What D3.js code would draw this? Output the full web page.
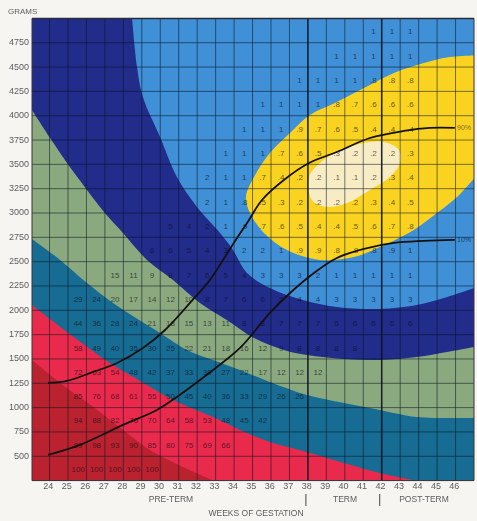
<!DOCTYPE html>
<html><head><meta charset="utf-8">
<script src="https://cdn.jsdelivr.net/npm/d3@7/dist/d3.min.js"></script>
<style>html,body{margin:0;padding:0;background:#f6f5f2}svg{display:block;filter:blur(0.45px)}</style>
</head><body><div id="chart"></div>
<script>
const weekTicks = d3.range(24, 47);
const gramTicks = d3.range(500, 5000, 250);
const gridWeeks = d3.range(24, 47);
const termWeeks = [38, 42];

// Weight bands: each row is [upper gram bound], first filled week column, values
const rowTops = [5000,4750,4500,4250,4000,3750,3500,3250,3000,2750,2500,2250,2000,1750,1500,1250,1000,750];
const rowStarts = [41,39,37,35,34,33,32,32,30,29,27,25,25,25,25,25,25,25];
const rowValues = [
 [1,1,1],
 [1,1,1,1,1],
 [1,1,1,1,.8,.8,.8],
 [1,1,1,1,.8,.7,.6,.6,.6],
 [1,1,1,.9,.7,.6,.5,.4,.4,.4],
 [1,1,1,.7,.6,.5,.3,.2,.2,.2,.3],
 [2,1,1,.7,.4,.2,.2,.1,.1,.2,.3,.4],
 [2,1,.8,.5,.3,.2,.2,.2,.2,.3,.4,.5],
 [5,4,2,1,.9,.7,.6,.5,.4,.4,.5,.6,.7,.8],
 [6,6,5,4,3,2,2,1,.9,.9,.8,.8,.8,.9,1],
 [15,11,9,8,7,6,5,4,3,3,3,2,1,1,1,1,1],
 [29,24,20,17,14,12,10,8,7,6,6,5,4,4,3,3,3,3,3],
 [44,36,28,24,21,18,15,13,11,8,8,7,7,7,6,6,6,6,6],
 [58,49,40,35,30,25,22,21,18,16,12,9,8,8,8,8],
 [72,63,54,48,42,37,33,30,27,22,17,12,12,12],
 [85,76,68,61,55,50,45,40,36,33,29,26,26],
 [94,88,82,76,70,64,58,53,48,45,42],
 [99,98,93,90,85,80,75,69,66],
];
const lastRowTop = 500;
const lastRowStart = 25;
const lastRowValues = [100,100,100,100,100];

// Colour band upper boundaries [week, grams]
const navyEdge = [[28.47,5010],[28.74,4501],[29.06,4192],[29.99,3781],[30.9,3370],[31.99,3062],[33.24,2795],[33.94,2620],[34.7,2384],[35.94,2230],[37.73,2107],[39.57,2035],[41.9,2014],[43.9,2055],[45.37,2127],[47,2230]];
const sageEdge = [[23.05,4059],[24.03,3771],[24.95,3514],[26.03,3237],[27,3000],[27.98,2795],[29.28,2518],[30.69,2312],[32.15,2076],[33.6,1901],[35.08,1716],[36.7,1593],[37.95,1541],[39.95,1500],[41.9,1490],[43.9,1521],[45.53,1572],[47,1624]];
const tealEdge = [[23.05,2733],[24.57,2518],[26.03,2281],[27.44,2076],[29.99,1768],[31.45,1593],[32.86,1490],[34.32,1387],[35.94,1264],[37.95,1130],[39.95,1048],[41.9,976],[43.9,904],[47,894]];
const redEdge = [[23.05,2055],[24.95,1778],[27.28,1459],[29.28,1233],[30.69,1079],[32.86,904],[34.32,771],[35.94,647],[37.95,545],[39.95,432],[41.9,329],[43.9,247],[45,190]];
const darkRedEdge = [[23.05,1490],[24.95,1200],[26.36,1010],[27.98,770],[29.44,565],[31.23,390],[32.86,250],[33.5,180]];
const yellowEdge = [[47.2,4620],[45.7,4603],[44.28,4542],[42.66,4439],[41.04,4285],[39.57,4141],[38.11,4007],[37.03,3822],[35.94,3617],[35.08,3370],[34.64,3165],[34.86,3000],[35.62,2795],[36.87,2620],[38.65,2518],[40.49,2548],[41.9,2651],[43.74,2826],[44.99,3000],[46.08,3165],[47.2,3400]];
const creamEdge = [[38.06,3370],[38.65,3514],[39.74,3648],[41.04,3720],[42.12,3730],[42.93,3648],[42.99,3514],[42.44,3370],[41.36,3237],[40.12,3103],[39.03,3062],[38.22,3134]];
const curve90 = [[23.92,1254],[24.95,1274],[26.36,1367],[27.66,1459],[29.06,1613],[30.26,1798],[31.61,2076],[32.69,2312],[33.4,2518],[34.16,2744],[34.81,2929],[35.51,3134],[36.7,3340],[38.06,3514],[39.57,3627],[41.36,3771],[43.2,3843],[44.61,3874],[45.96,3874]];
const curve10 = [[23.92,514],[25.65,617],[27.98,822],[29.82,976],[30.9,1110],[32.86,1387],[34.32,1613],[35.94,1973],[37.03,2178],[38.33,2384],[39.57,2538],[41.04,2631],[42.66,2692],[44.28,2713],[45.96,2723]];

const colLight="#3f90d6", colNavy="#222c8b", colSage="#8ba97f", colTeal="#176c94", colRed="#ea2a4c", colDark="#bb2230", colYellow="#fad320", colCream="#f8ecc4";

const W=477,H=521;
const x=d3.scaleLinear().domain([23.05,47]).range([32,474]);
const y=d3.scaleLinear().domain([250,5000]).range([480.6,18.4]);
const svg=d3.select("#chart").append("svg").attr("width",W).attr("height",H);
const defs=svg.append("defs");
defs.append("clipPath").attr("id","plot").append("rect")
  .attr("x",x(23.05)).attr("y",y(5000)).attr("width",x(47)-x(23.05)).attr("height",y(250)-y(5000));

const g=svg.append("g").attr("clip-path","url(#plot)");
const edge=d3.line().x(d=>x(d[0])).y(d=>y(d[1])).curve(d3.curveCatmullRom.alpha(0.5));
function bandPath(pts,closeTopLeft){
  let p=edge(pts)+`L${x(47.5)},${y(pts[pts.length-1][1])}L${x(47.5)},${y(100)}L${x(22.5)},${y(100)}`;
  if(closeTopLeft) p+=`L${x(22.5)},${y(5100)}`;
  return p+"Z";
}
g.append("rect").attr("x",x(23.05)).attr("y",y(5000)).attr("width",x(47)-x(23.05)).attr("height",y(250)-y(5000)).attr("fill",colLight);
g.append("path").attr("d",edge(yellowEdge)+"Z").attr("fill",colYellow);
g.append("path").attr("d",d3.line().x(d=>x(d[0])).y(d=>y(d[1])).curve(d3.curveCatmullRomClosed.alpha(0.5))(creamEdge)).attr("fill",colCream);
g.append("path").attr("d",bandPath(navyEdge,true)).attr("fill",colNavy);
g.append("path").attr("d",bandPath(sageEdge)).attr("fill",colSage);
g.append("path").attr("d",bandPath(tealEdge)).attr("fill",colTeal);
g.append("path").attr("d",bandPath(redEdge)).attr("fill",colRed);
g.append("path").attr("d",bandPath(darkRedEdge)).attr("fill",colDark);

// grid
g.selectAll("line.v").data(gridWeeks).join("line").attr("class","v")
 .attr("x1",d=>x(d)).attr("x2",d=>x(d)).attr("y1",y(5000)).attr("y2",y(250))
 .attr("stroke",d=>"#0a1420").attr("stroke-opacity",d=>termWeeks.includes(d)?0.9:0.55).attr("stroke-width",d=>termWeeks.includes(d)?1.6:1);
g.selectAll("line.h").data(gramTicks).join("line").attr("class","h")
 .attr("x1",x(23.05)).attr("x2",x(47)).attr("y1",d=>y(d)).attr("y2",d=>y(d))
 .attr("stroke","#0a1420").attr("stroke-opacity",0.55).attr("stroke-width",1);

// cell values
const fmt=v=>v<1?String(v).replace(/^0/,""):String(v);
const cells=[];
rowTops.forEach((top,i)=>rowValues[i].forEach((v,j)=>cells.push({w:rowStarts[i]+j+0.55,g:top-125,v})));
lastRowValues.forEach((v,j)=>cells.push({w:lastRowStart+j+0.55,g:lastRowTop-125,v}));
g.selectAll("text.c").data(cells).join("text").attr("class","c")
 .attr("x",d=>x(d.w)).attr("y",d=>y(d.g)+3.7).attr("text-anchor","middle")
 .attr("font-family","Liberation Sans, Arial, sans-serif").attr("font-size",8)
 .attr("fill","#0c0c14").attr("fill-opacity",0.68).text(d=>fmt(d.v));

// percentile curves
const pline=d3.line().x(d=>x(d[0])).y(d=>y(d[1])).curve(d3.curveCatmullRom.alpha(0.5));
[curve90,curve10].forEach(c=>g.append("path").attr("d",pline(c)).attr("fill","none").attr("stroke","#14100f").attr("stroke-width",1.8));

// frame
svg.append("path").attr("d",`M${x(23.05)},${y(5000)}H${x(47)}`).attr("stroke","#2c2c38").attr("stroke-width",1.5);
svg.append("path").attr("d",`M${x(23.05)},${y(5000)}V${y(250)}H${x(47)}V${y(5000)}`).attr("fill","none").attr("stroke","#3a3436").attr("stroke-width",1);

const font="Liberation Sans, Arial, sans-serif", tc="#5c5c5c";
// axes
const ax=svg.append("g").attr("transform",`translate(0,${y(250)})`).call(d3.axisBottom(x).tickValues(weekTicks).tickFormat(d3.format("d")).tickSize(0).tickPadding(2.5));
ax.select(".domain").remove();
ax.selectAll("text").attr("font-family",font).attr("font-size",9).attr("fill",tc).attr("dx",-1.7);
const ay=svg.append("g").attr("transform",`translate(${x(23.05)},0)`).call(d3.axisLeft(y).tickValues(gramTicks).tickFormat(d3.format("d")).tickSize(0).tickPadding(3));
ay.select(".domain").remove();
ay.selectAll("text").attr("font-family",font).attr("font-size",9).attr("fill",tc).attr("dy","0.22em");

// labels
function lab(t,px,py,a,s){svg.append("text").attr("x",px).attr("y",py).attr("text-anchor",a||"middle").attr("font-family",font).attr("font-size",s||8.5).attr("fill",tc).text(t);}
lab("GRAMS",8,14,"start",8);
lab("PRE-TERM",171,502);
lab("TERM",345,502);
lab("POST-TERM",424,502);
lab("WEEKS OF GESTATION",256,516);
termWeeks.forEach(w=>svg.append("line").attr("x1",x(w)-2).attr("x2",x(w)-2).attr("y1",494).attr("y2",506).attr("stroke","#444").attr("stroke-width",1));
g.append("text").attr("x",x(46)+1.5).attr("y",y(3874)+2.5).attr("font-family",font).attr("font-size",7).attr("fill","#8a6a20").text("90%");
g.append("text").attr("x",x(46)+1.5).attr("y",y(2723)+2.5).attr("font-family",font).attr("font-size",7).attr("fill","#1c3c60").text("10%");
</script></body></html>
